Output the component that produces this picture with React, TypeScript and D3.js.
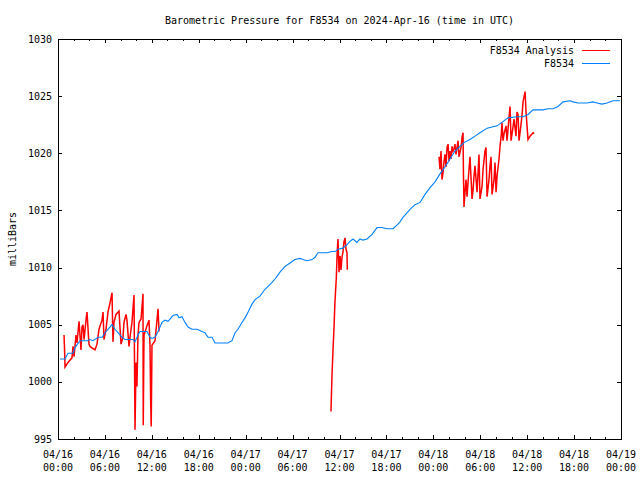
import React from "react";
import * as d3 from "d3";

const TITLE = "Barometric Pressure for F8534 on 2024-Apr-16 (time in UTC)";
const Y_LABEL = "milliBars";
const START = Date.UTC(2024, 3, 16, 0, 0);
const END = Date.UTC(2024, 3, 19, 0, 0);
const Y_DOMAIN = [995, 1030];
const Y_TICKS = [995, 1000, 1005, 1010, 1015, 1020, 1025, 1030];
const SERIES_NAMES = ["F8534 Analysis", "F8534"];

// hours since 2024-04-16 00:00 UTC
const stationHours = [
  0.26, 0.9, 1.28, 1.92, 2.17, 2.81, 3.71, 4.09, 4.48, 5.12, 5.63, 6.01, 6.39, 6.91, 7.29, 7.67, 8.19, 8.57,
  9.59, 9.85, 10.23, 10.49, 11.38, 11.77, 12.02, 12.41, 12.79, 13.3, 13.68, 14.07, 14.71, 15.22, 15.48, 15.86,
  16.24, 16.63, 17.14, 17.78, 18.42, 18.8, 19.18, 19.7, 20.08, 20.72, 21.74, 22.25, 22.64, 23.02, 23.53, 23.92,
  24.3, 24.81, 25.2, 25.83, 26.47, 27.11, 27.75, 28.39, 29.03, 29.67, 30.31, 30.95, 31.33, 31.85, 32.48, 32.87,
  33.25, 34.4, 35.04, 35.43, 35.81, 36.45, 36.96, 37.34, 37.73, 38.24, 38.62, 39.01, 39.52, 40.16, 40.8, 41.44,
  42.08, 42.84, 43.48, 43.74, 44.12, 45.02, 45.66, 46.3, 46.94, 47.58, 48.22, 48.85, 49.49, 50.13, 50.77, 51.41,
  52.05, 52.69, 53.33, 53.97, 54.87, 55.51, 56.15, 56.78, 57.55, 58.7, 59.47, 60.11, 60.75, 61.39, 62.03, 62.67,
  63.31, 63.95, 64.59, 65.48, 65.87, 66.5, 67.65, 68.42, 68.93, 69.57, 70.21, 70.6, 70.98, 71.49, 71.87,
];
const stationValues = [
  1002.0, 1002.0, 1002.5, 1002.5, 1003.0, 1003.6, 1003.6, 1003.7, 1003.6, 1003.9, 1003.9, 1004.3, 1004.6, 1005.0,
  1004.6, 1004.3, 1003.9, 1003.7, 1003.7, 1003.5, 1004.1, 1004.4, 1004.4, 1003.9, 1003.8, 1003.9, 1004.4, 1005.2,
  1005.4, 1005.3, 1005.8, 1005.9, 1005.6, 1005.7, 1005.2, 1004.8, 1004.6, 1004.6, 1004.4, 1004.3, 1003.9, 1003.9,
  1003.4, 1003.4, 1003.4, 1003.6, 1004.3, 1004.6, 1005.2, 1005.6, 1006.1, 1006.8, 1007.2, 1007.5, 1008.1, 1008.5,
  1009.0, 1009.6, 1010.1, 1010.4, 1010.7, 1010.8, 1010.7, 1010.6, 1010.7, 1010.9, 1011.3, 1011.3, 1011.4, 1011.4,
  1011.6, 1011.7, 1012.0, 1012.3, 1012.5, 1012.2, 1012.5, 1012.4, 1012.5, 1012.9, 1013.5, 1013.5, 1013.4, 1013.4,
  1013.8, 1014.0, 1014.4, 1015.1, 1015.5, 1015.7, 1016.4, 1017.0, 1017.5, 1018.2, 1018.8, 1019.5, 1020.2, 1020.6,
  1021.0, 1021.2, 1021.5, 1021.8, 1022.2, 1022.3, 1022.4, 1022.7, 1023.1, 1023.2, 1023.2, 1023.4, 1023.8, 1023.8,
  1023.8, 1023.9, 1023.9, 1024.1, 1024.5, 1024.6, 1024.5, 1024.4, 1024.4, 1024.5, 1024.4, 1024.3, 1024.4, 1024.5,
  1024.6, 1024.6, 1024.6,
];

// null marks a gap in the analysis series
const analysisHours = [
  0.77, 0.84, 0.9, 1.28, 1.79, 1.92, 2.05, 2.3, 2.43, 2.69, 2.94, 3.07, 3.2, 3.33, 3.58, 3.71, 3.96, 4.09, 4.73,
  4.99, 5.24, 5.63, 5.76, 5.88, 6.14, 6.39, 6.65, 6.91, 7.03, 7.16, 7.42, 7.67, 7.8, 8.06, 8.31, 8.44, 8.7, 8.82,
  9.08, 9.21, 9.46, 9.72, 9.85, 9.98, 10.1, 10.23, 10.36, 10.62, 10.87, 10.9, 11.0, 11.38, 11.64, 11.77, 11.85,
  11.92, 12.02, 12.41, 12.66, 12.79, 12.92,
  null,
  34.91, 35.04, 35.17, 35.3, 35.42, 35.6, 35.7, 35.81, 35.94, 36.07, 36.19, 36.32, 36.45, 36.58, 36.71, 36.83,
  36.96, 37.0,
  null,
  48.73, 48.85, 48.98, 49.11, 49.24, 49.37, 49.49, 49.62, 49.75, 49.88, 50.01, 50.13, 50.26, 50.39, 50.52, 50.65,
  50.77, 50.9, 51.03, 51.16, 51.28, 51.54, 51.67, 51.8, 51.85, 51.92, 52.05, 52.18, 52.31, 52.56, 52.69, 52.95,
  53.08, 53.2, 53.33, 53.59, 53.72, 53.84, 53.97, 54.23, 54.36, 54.61, 54.74, 54.87, 55.12, 55.25, 55.38, 55.51,
  55.76, 55.89, 56.02, 56.15, 56.4, 56.53, 56.7, 56.78, 56.91, 57.04, 57.3, 57.42, 57.55, 57.81, 57.94, 58.19,
  58.32, 58.57, 58.7, 58.83, 58.96, 59.21, 59.34, 59.47, 59.73, 59.85, 59.98, 60.11, 60.37, 60.75, 60.88,
];
const analysisValues = [
  1004.1, 1002.8, 1001.3, 1001.7, 1002.1, 1003.1, 1002.2, 1004.1, 1003.4, 1005.3, 1002.8, 1004.8, 1005.0, 1003.7,
  1005.4, 1006.1, 1003.3, 1003.1, 1002.8, 1003.3, 1004.6, 1005.4, 1006.1, 1003.7, 1004.6, 1006.1, 1006.9, 1007.8,
  1003.5, 1005.2, 1005.9, 1006.1, 1006.2, 1003.3, 1003.9, 1005.2, 1005.9, 1005.4, 1003.1, 1003.9, 1005.2, 1007.6,
  995.8, 1001.7, 999.6, 1004.1, 1005.2, 1005.5, 1007.7, 996.2, 1004.1, 1004.9, 1005.4, 1003.1, 998.4, 996.1,
  1003.2, 1003.6, 1005.4, 1006.4, 1004.4,
  null,
  997.4, 1000.6, 1002.8, 1004.8, 1007.0, 1009.2, 1011.3, 1012.5, 1009.6, 1011.0, 1009.8, 1010.9, 1011.4, 1012.3,
  1012.6, 1011.6, 1011.3, 1009.8,
  null,
  1019.7, 1018.6, 1020.2, 1017.7, 1018.3, 1019.3, 1019.9, 1018.8, 1020.5, 1020.8, 1019.3, 1020.2, 1019.5, 1020.6,
  1020.2, 1020.4, 1020.8, 1019.9, 1020.5, 1021.1, 1019.7, 1020.5, 1021.4, 1021.8, 1018.3, 1015.3, 1016.6, 1017.7,
  1016.2, 1018.6, 1019.7, 1016.0, 1016.8, 1018.0, 1018.9, 1016.6, 1018.3, 1019.9, 1016.0, 1017.1, 1018.6, 1020.2,
  1020.5, 1016.2, 1017.7, 1018.9, 1019.7, 1016.4, 1017.7, 1019.2, 1016.6, 1018.0, 1019.5, 1020.6, 1021.7, 1022.7,
  1021.1, 1021.7, 1022.4, 1021.1, 1022.1, 1024.1, 1021.1, 1022.3, 1023.0, 1021.5, 1023.6, 1023.4, 1021.1, 1022.5,
  1023.3, 1024.5, 1025.4, 1023.7, 1022.4, 1021.2, 1021.5, 1021.8, 1021.7,
];

const COLORS = ["#ff0000", "#0080ff"];
const FONT = "'DejaVu Sans Mono', 'Liberation Mono', monospace";

type Pt = { t: Date; v: number | null };

export default function App() {
  const W = 640, H = 480;
  const left = 58, right = 621, top = 39, bottom = 439;
  const x = d3.scaleUtc().domain([new Date(START), new Date(END)]).range([left, right]);
  const y = d3.scaleLinear().domain(Y_DOMAIN).range([bottom, top]);
  const toDate = (h: number) => new Date(START + h * 3600 * 1000);

  const station: Pt[] = stationHours.map((h, i) => ({ t: toDate(h), v: stationValues[i] }));
  const analysis: Pt[] = analysisHours.map((h, i) => ({ t: h == null ? new Date(START) : toDate(h), v: analysisValues[i] }));

  const line = d3
    .line<Pt>()
    .defined((d) => d.v != null)
    .x((d) => x(d.t))
    .y((d) => y(d.v as number));

  const majorTicks = x.ticks(d3.utcHour.every(6)!);
  const minorTicks = x.ticks(d3.utcHour.every(2)!).filter((d) => d.getUTCHours() % 6 !== 0);
  const fmtDate = d3.utcFormat("%m/%d");
  const fmtTime = d3.utcFormat("%H:%M");

  return (
    <svg width={W} height={H} style={{ position: "absolute", left: 0, top: 0, background: "#fff" }} fontFamily={FONT} fontSize={10}>
      <rect x={0} y={0} width={W} height={H} fill="#fff" />
      <text x={339.5} y={20} textAnchor="middle" dominantBaseline="central" fill="#000">{TITLE}</text>
      <text transform={`translate(12,${(top + bottom) / 2}) rotate(-90)`} textAnchor="middle" dominantBaseline="central" fill="#000">{Y_LABEL}</text>

      <g shapeRendering="crispEdges" stroke="#000" strokeWidth={1}>
        {Y_TICKS.map((v) => (
          <g key={v}>
            <line x1={left} x2={left + 4} y1={Math.round(y(v)) + 0.5} y2={Math.round(y(v)) + 0.5} />
            <line x1={right - 4} x2={right} y1={Math.round(y(v)) + 0.5} y2={Math.round(y(v)) + 0.5} />
          </g>
        ))}
        {majorTicks.map((d, i) => (
          <g key={"M" + i}>
            <line x1={Math.round(x(d)) + 0.5} x2={Math.round(x(d)) + 0.5} y1={bottom} y2={bottom - 4} />
            <line x1={Math.round(x(d)) + 0.5} x2={Math.round(x(d)) + 0.5} y1={top} y2={top + 4} />
          </g>
        ))}
        {minorTicks.map((d, i) => (
          <g key={"m" + i}>
            <line x1={Math.round(x(d)) + 0.5} x2={Math.round(x(d)) + 0.5} y1={bottom} y2={bottom - 2} />
            <line x1={Math.round(x(d)) + 0.5} x2={Math.round(x(d)) + 0.5} y1={top} y2={top + 2} />
          </g>
        ))}
      </g>

      {Y_TICKS.map((v) => (
        <text key={"yl" + v} x={52} y={y(v)} textAnchor="end" dominantBaseline="central" fill="#000">{v}</text>
      ))}
      {majorTicks.map((d, i) => (
        <g key={"xl" + i}>
          <text x={x(d)} y={454} textAnchor="middle" dominantBaseline="central" fill="#000">{fmtDate(d)}</text>
          <text x={x(d)} y={467} textAnchor="middle" dominantBaseline="central" fill="#000">{fmtTime(d)}</text>
        </g>
      ))}

      <path d={line(analysis) || ""} fill="none" stroke={COLORS[0]} strokeWidth={1.5} />
      <path d={line(station) || ""} fill="none" stroke={COLORS[1]} strokeWidth={1.1} />

      {SERIES_NAMES.map((name, i) => (
        <g key={name}>
          <text x={574} y={50 + i * 13} textAnchor="end" dominantBaseline="central" fill="#000">{name}</text>
          <line x1={582} x2={610} y1={50 + i * 13} y2={50 + i * 13} stroke={COLORS[i]} strokeWidth={1} shapeRendering="crispEdges" />
        </g>
      ))}

      <rect x={left + 0.5} y={top + 0.5} width={right - left} height={bottom - top} fill="none" stroke="#000" strokeWidth={1} shapeRendering="crispEdges" />
    </svg>
  );
}
